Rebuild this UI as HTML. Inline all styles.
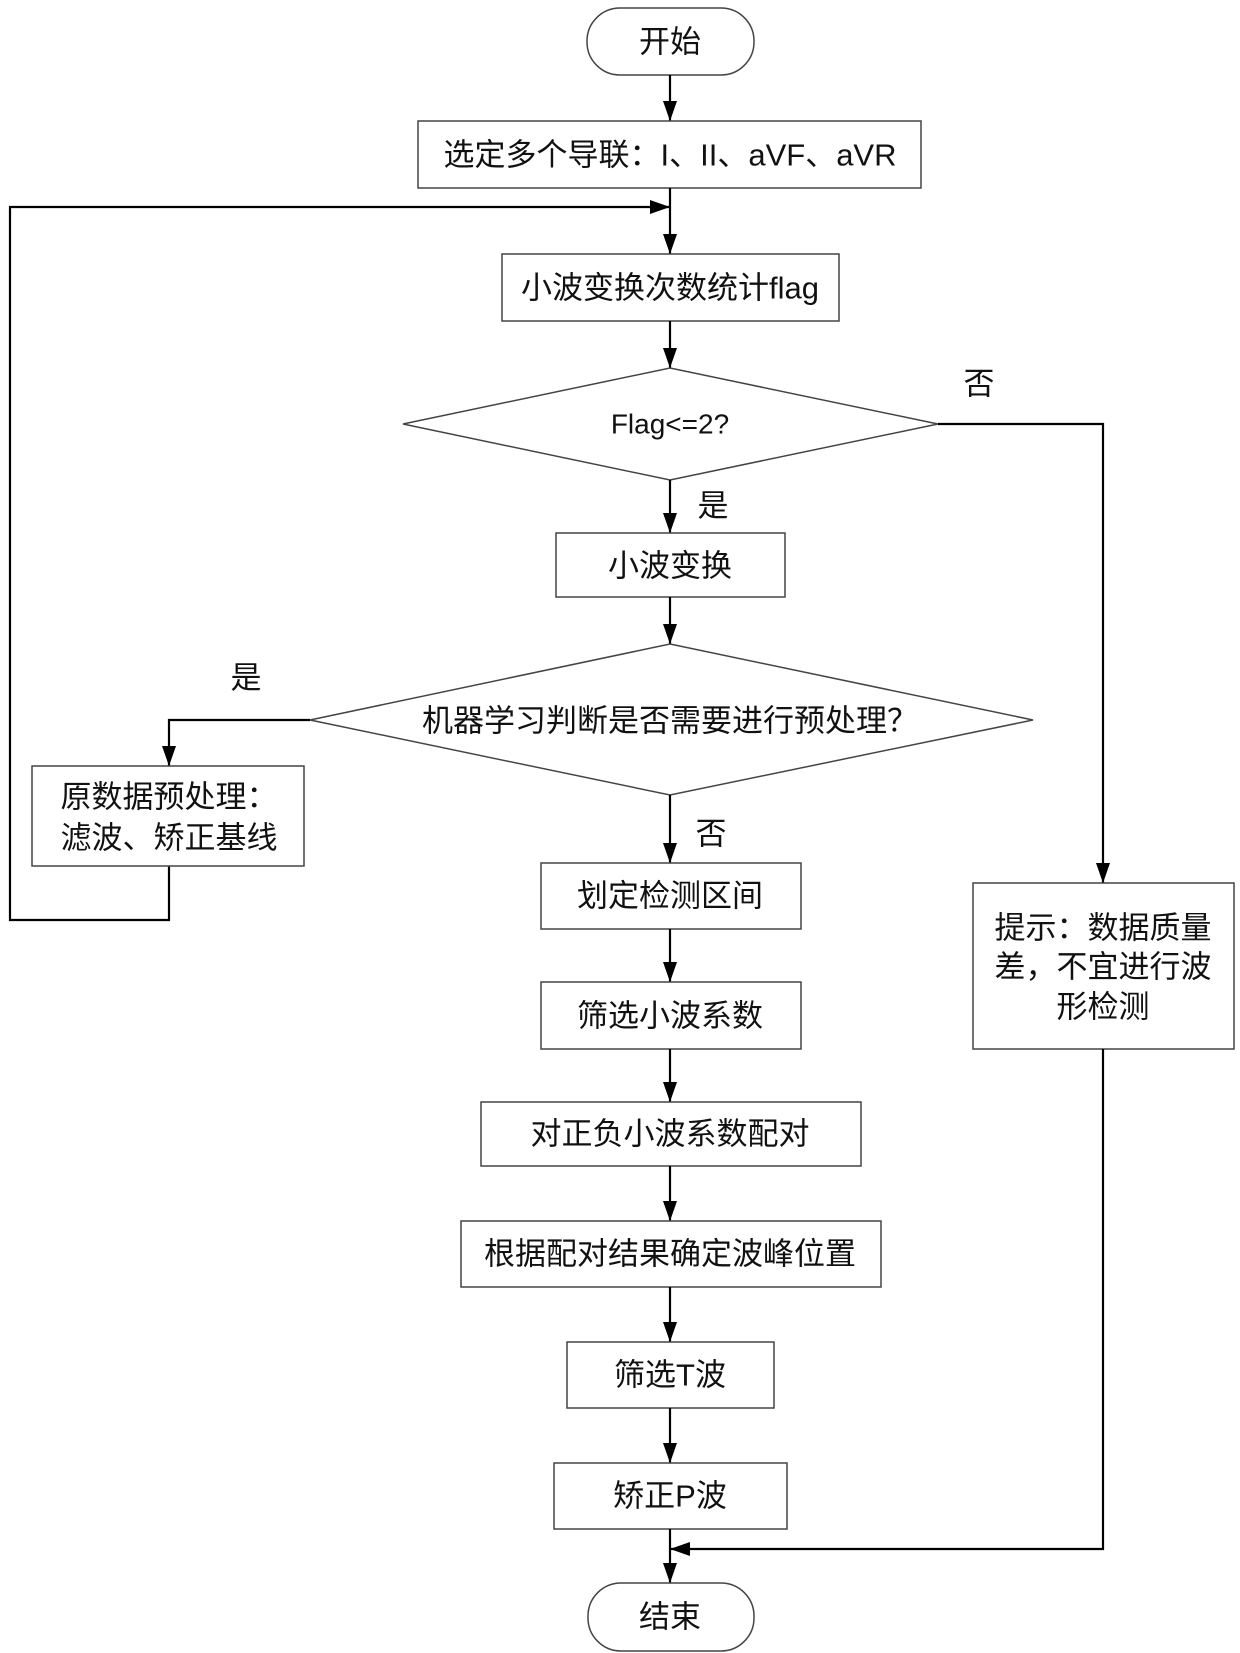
<!DOCTYPE html>
<html><head><meta charset="utf-8"><style>
html,body{margin:0;padding:0;background:#fff;}
svg{display:block;}
text{font-family:"Liberation Sans","Noto Sans CJK SC",sans-serif;font-size:31px;fill:#111;text-anchor:middle;dominant-baseline:central;}
.b{fill:#fff;stroke:#444;stroke-width:1.5;}
.l{fill:none;stroke:#000;stroke-width:2.2;}
</style></head><body>
<svg width="1240" height="1653" viewBox="0 0 1240 1653" xmlns="http://www.w3.org/2000/svg">
<defs>
<marker id="ar" viewBox="0 0 20 14" markerWidth="20" markerHeight="14" refX="20" refY="7" orient="auto" markerUnits="userSpaceOnUse"><path d="M0,0 L20,7 L0,14 z" fill="#000"/></marker></defs>

<rect class="b" x="587" y="8" width="167" height="67" rx="33"/>
<text x="670" y="42">开始</text>
<line class="l" x1="670" y1="75" x2="670" y2="121" marker-end="url(#ar)"/>

<rect class="b" x="418" y="121" width="503" height="67"/>
<text x="670" y="155">选定多个导联：I、II、aVF、aVR</text>
<line class="l" x1="670" y1="188" x2="670" y2="254" marker-end="url(#ar)"/>

<polyline class="l" points="169,866 169,920 10,920 10,207 670,207" marker-end="url(#ar)"/>

<rect class="b" x="502" y="254" width="337" height="67"/>
<text x="670" y="288">小波变换次数统计flag</text>
<line class="l" x1="670" y1="321" x2="670" y2="368" marker-end="url(#ar)"/>

<polygon class="b" points="670,368 938,424 670,480 403,424"/>
<text x="670" y="424" style="font-size:28px">Flag&lt;=2?</text>
<text x="979" y="384">否</text>
<polyline class="l" points="938,424 1103,424 1103,883" marker-end="url(#ar)"/>

<text x="713" y="506">是</text>
<line class="l" x1="670" y1="480" x2="670" y2="533" marker-end="url(#ar)"/>

<rect class="b" x="556" y="533" width="229" height="64"/>
<text x="670" y="566">小波变换</text>
<line class="l" x1="670" y1="597" x2="670" y2="644" marker-end="url(#ar)"/>

<polygon class="b" points="670,644 1033,720 670,795 310,720"/>
<text x="670" y="721">机器学习判断是否需要进行预处理？</text>
<text x="246" y="678">是</text>
<polyline class="l" points="310,720 169,720 169,766" marker-end="url(#ar)"/>

<rect class="b" x="32" y="766" width="272" height="100"/>
<text x="169" y="797">原数据预处理：</text>
<text x="169" y="838">滤波、矫正基线</text>

<text x="711" y="834">否</text>
<line class="l" x1="670" y1="795" x2="670" y2="863" marker-end="url(#ar)"/>

<rect class="b" x="541" y="863" width="260" height="66"/>
<text x="670" y="896">划定检测区间</text>
<line class="l" x1="670" y1="929" x2="670" y2="982" marker-end="url(#ar)"/>

<rect class="b" x="541" y="982" width="260" height="67"/>
<text x="670" y="1016">筛选小波系数</text>
<line class="l" x1="670" y1="1049" x2="670" y2="1102" marker-end="url(#ar)"/>

<rect class="b" x="481" y="1102" width="380" height="64"/>
<text x="670" y="1134">对正负小波系数配对</text>
<line class="l" x1="670" y1="1166" x2="670" y2="1221" marker-end="url(#ar)"/>

<rect class="b" x="461" y="1221" width="420" height="66"/>
<text x="670" y="1254">根据配对结果确定波峰位置</text>
<line class="l" x1="670" y1="1287" x2="670" y2="1342" marker-end="url(#ar)"/>

<rect class="b" x="567" y="1342" width="207" height="66"/>
<text x="670" y="1375">筛选T波</text>
<line class="l" x1="670" y1="1408" x2="670" y2="1463" marker-end="url(#ar)"/>

<rect class="b" x="554" y="1463" width="233" height="66"/>
<text x="670" y="1496">矫正P波</text>
<line class="l" x1="670" y1="1529" x2="670" y2="1583" marker-end="url(#ar)"/>

<rect class="b" x="973" y="883" width="261" height="166"/>
<text x="1103" y="928">提示：数据质量</text>
<text x="1103" y="967">差，不宜进行波</text>
<text x="1103" y="1007">形检测</text>
<polyline class="l" points="1103,1049 1103,1549 670,1549" marker-end="url(#ar)"/>

<rect class="b" x="588" y="1583" width="166" height="68" rx="33"/>
<text x="670" y="1617">结束</text>
</svg>
</body></html>
